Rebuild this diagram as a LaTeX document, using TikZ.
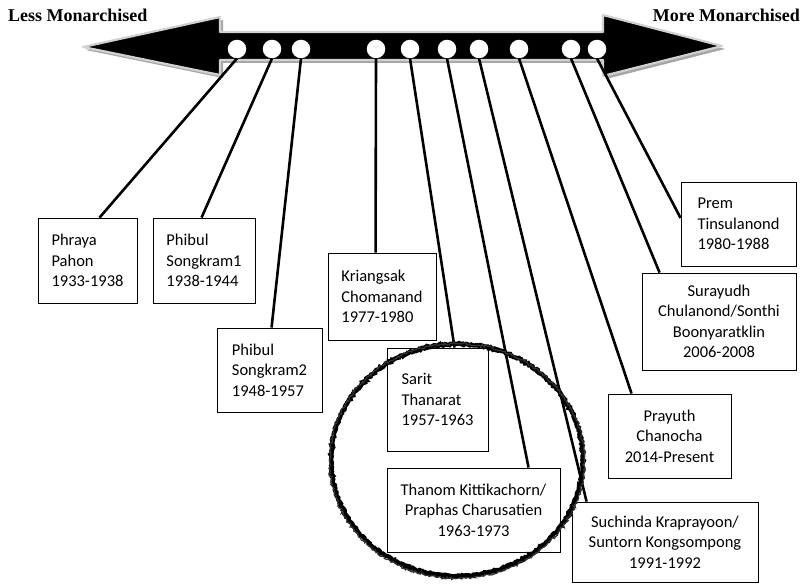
\documentclass[tikz,border=0pt]{standalone}
\usepackage{fontspec}
\setmainfont{Carlito}
\newfontfamily\titlefont{Liberation Serif}
\usetikzlibrary{calc,decorations.pathmorphing}
\tikzset{
  box/.style={draw, line width=0.9pt, inner sep=0pt, align=left, font=\fontsize{16.5}{20.5}\selectfont},
  cbox/.style={box, align=center},
  dot/.style={circle, fill=white, inner sep=0pt, minimum size=18.5pt},
  link/.style={line width=2.6pt},
  side/.style={font=\titlefont\bfseries\fontsize{18}{20}\selectfont, inner sep=0pt}
}

\begin{document}
\begin{tikzpicture}[x=1pt, y=-1pt]
			%%%%% START %%%%%
			\useasboundingbox (0, 0) rectangle (802, 583);
			
			\node[side, anchor=base west] (less) at (8, 22) {Less Monarchised};
			\node[side, anchor=base east] (more) at (800, 22) {More Monarchised};
			
			% the scale
			\fill[black!35] (86, 50) -- (223, 20) -- (223, 35) -- (606, 35) -- (606, 18) -- (725, 49)
				-- (606, 79) -- (606, 63) -- (223, 63) -- (223, 78) -- cycle;
			\draw[fill=black, draw=black!18, line width=2.2pt, line join=round] (83, 47) -- (220, 17) -- (220, 32) -- (603, 32) -- (603, 15) -- (722, 46)
				-- (603, 76) -- (603, 60) -- (220, 60) -- (220, 75) -- cycle;
			
			\node[dot] (d1) at (237, 49) {};
			\node[dot] (d2) at (272, 49) {};
			\node[dot] (d3) at (301, 49) {};
			\node[dot] (d4) at (376, 49) {};
			\node[dot] (d5) at (410, 49) {};
			\node[dot] (d6) at (447, 49) {};
			\node[dot] (d7) at (479, 49) {};
			\node[dot] (d8) at (519, 49) {};
			\node[dot] (d9) at (571, 49) {};
			\node[dot] (d10) at (597, 49) {};
			
			% the leaders
			\node[box, minimum width=99pt, minimum height=85pt] (phraya) at (87.5, 260.5) {Phraya\\Pahon\\1933-1938};
			\node[box, minimum width=102pt, minimum height=85pt] (phibulA) at (204, 260.5) {Phibul\\Songkram1\\1938-1944};
			\node[box, minimum width=105pt, minimum height=84pt] (phibulB) at (269.5, 370) {Phibul\\Songkram2\\1948-1957};
			\node[box, minimum width=108pt, minimum height=87pt] (kriangsak) at (382, 296.5) {Kriangsak\\Chomanand\\1977-1980};
			\node[box, minimum width=101pt, minimum height=103pt] (sarit) at (437.5, 399.5) {Sarit\\Thanarat\\1957-1963};
			\node[cbox, minimum width=173pt, minimum height=84pt] (thanom) at (473.5, 510) {Thanom Kittikachorn/\\Praphas Charusatien\\1963-1973};
			\node[cbox, minimum width=186pt, minimum height=80pt] (suchinda) at (665, 542) {Suchinda Kraprayoon/\\Suntorn Kongsompong\\1991-1992};
			\node[cbox, minimum width=123pt, minimum height=84pt] (prayuth) at (669.5, 436) {Prayuth\\Chanocha\\2014-Present};
			\node[cbox, minimum width=154pt, minimum height=97pt] (surayudh) at (719, 321.5) {Surayudh\\Chulanond/Sonthi\\Boonyaratklin\\2006-2008};
			\node[box, minimum width=115pt, minimum height=84pt] (prem) at (738.5, 224) {Prem\\Tinsulanond\\1980-1988};
			
			\draw[link] (d1.south) -- ($(phraya.north west)+(62, 0)$);
			\draw[link] (d2.south) -- ($(phibulA.north west)+(49, 0)$);
			\draw[link] (d3.south) -- ($(phibulB.north west)+(55, 0)$);
			\draw[link] (d4.south) -- ($(kriangsak.north west)+(48, 0)$);
			\draw[link] (d5.south) -- ($(sarit.north west)+(68, 0)$);
			\draw[link] (d6.south) -- ($(thanom.north west)+(142, 0)$);
			\draw[link] (d7.south) -- ($(suchinda.north west)+(15, 0)$);
			\draw[link] (d8.south) -- ($(prayuth.north west)+(24, 0)$);
			\draw[link] (d9.south) -- ($(surayudh.north west)+(18, 0)$);
			\draw[link] (d10.south) -- ($(prem.west)+(0, -6)$);
			
			% hand drawn ring
			\draw[line width=4.4pt, decorate, decoration={random steps, segment length=1.5pt, amplitude=0.9pt}]
				(457, 460) ellipse [x radius=126, y radius=116];
			\draw[line width=1.2pt, black!80, decorate, decoration={random steps, segment length=1.5pt, amplitude=1.2pt}]
				(457, 461) ellipse [x radius=127.5, y radius=117.5];
			
			%%%%% END %%%%%
\end{tikzpicture}
\end{document}
